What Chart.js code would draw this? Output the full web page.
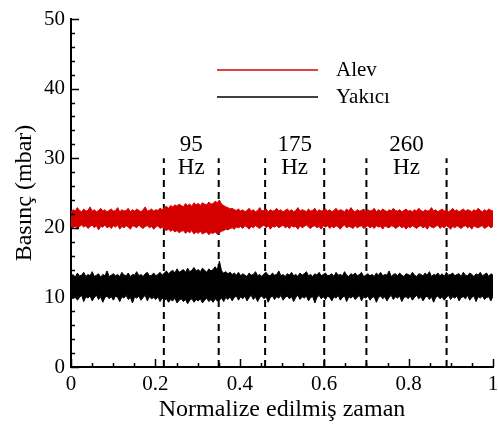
<!DOCTYPE html>
<html>
<head>
<meta charset="utf-8">
<script src="https://cdn.jsdelivr.net/npm/chart.js"></script>
<style>
  html, body { margin: 0; padding: 0; background: #fff; }
  #wrap { width: 498px; height: 426px; }
</style>
</head>
<body>
<div id="wrap"><canvas id="myChart" width="498" height="426"></canvas></div>
<script>
// pressure band edges (mbar), evenly spaced over normalized time 0..1
const alevHigh = [
  22.3, 22.6, 22.4, 22.9, 22.5, 22.3, 22.7, 22.4, 22.5, 23.0, 22.4, 22.6, 22.3, 22.5, 22.8, 22.4, 22.6, 22.3, 22.5, 22.7,
  22.4, 22.5, 22.9, 22.3, 22.6, 22.4, 22.5, 22.8, 22.3, 22.6, 22.4, 22.7, 22.5, 22.3, 22.6, 23.0, 22.4, 22.5, 22.7, 22.4,
  22.6, 22.5, 22.8, 22.6, 22.9, 23.1, 22.8, 23.2, 23.0, 23.3, 23.1, 23.4, 23.2, 23.0, 23.5, 23.2, 23.4, 23.1, 23.6, 23.3,
  23.5, 23.2, 23.6, 23.4, 23.3, 23.7, 23.4, 23.5, 23.8, 23.6, 24.0, 23.4, 23.2, 23.0, 22.9, 22.7, 22.8, 22.6, 22.5, 22.7,
  22.4, 22.6, 22.3, 22.5, 22.8, 22.4, 22.6, 22.3, 22.5, 22.9, 22.4, 22.5, 22.7, 22.3, 22.6, 22.4, 22.5, 22.8, 22.4, 22.6,
  22.3, 22.5, 22.7, 22.4, 22.6, 22.3, 22.5, 22.9, 22.4, 22.6, 22.5, 22.3, 22.7, 22.4, 22.5, 22.8, 22.3, 22.6, 22.4, 22.5,
  22.7, 22.4, 22.6, 22.3, 22.5, 22.8, 22.4, 22.6, 22.5, 22.3, 22.7, 22.4, 22.9, 22.5, 22.3, 22.6, 22.4, 22.5, 22.7, 22.3,
  22.6, 22.4, 22.5, 22.8, 22.3, 22.6, 22.4, 22.7, 22.5, 22.3, 22.6, 22.4, 22.8, 22.5, 22.4, 22.6, 22.3, 22.5, 22.7, 22.4,
  22.5, 22.3, 22.6, 22.4, 22.8, 22.5, 22.3, 22.6, 22.4, 22.5, 22.9, 22.4, 22.6, 22.3, 22.5, 22.7, 22.4, 22.6, 22.3, 22.5,
  22.8, 22.4, 22.6, 22.3, 22.5, 22.7, 22.4, 22.6, 22.5, 22.3, 22.6, 22.4, 22.8, 22.5, 22.3, 22.6, 22.4, 22.7, 22.5, 22.4
]
const alevLow = [
  20.2, 20.0, 20.3, 19.8, 20.2, 20.4, 20.1, 20.3, 19.9, 20.2, 20.4, 20.0, 20.3, 19.7, 20.2, 20.1, 20.4, 20.0, 20.2, 19.9,
  20.3, 20.1, 20.4, 19.8, 20.2, 20.0, 20.3, 20.1, 19.8, 20.3, 20.2, 20.0, 20.4, 20.1, 19.9, 20.2, 20.3, 20.0, 20.2, 19.8,
  20.1, 20.3, 19.9, 20.1, 19.8, 19.6, 19.8, 19.5, 19.7, 19.4, 19.6, 19.3, 19.5, 19.6, 19.2, 19.5, 19.3, 19.6, 19.1, 19.4,
  19.2, 19.5, 19.1, 19.3, 19.4, 19.0, 19.3, 19.2, 19.4, 19.1, 19.3, 19.5, 19.6, 19.8, 19.7, 19.9, 20.0, 19.8, 20.1, 20.0,
  20.2, 19.9, 20.3, 20.1, 19.8, 20.2, 20.0, 20.3, 20.1, 19.9, 20.2, 20.4, 20.0, 20.3, 19.8, 20.2, 20.1, 20.3, 20.0, 20.2,
  20.4, 20.0, 20.2, 19.9, 20.3, 20.1, 20.2, 19.8, 20.3, 20.0, 20.2, 20.4, 20.1, 19.9, 20.2, 20.3, 20.0, 20.2, 19.8, 20.3,
  20.1, 20.3, 19.9, 20.2, 20.0, 20.3, 20.1, 19.8, 20.2, 20.4, 20.0, 20.2, 20.1, 19.9, 20.3, 20.0, 20.2, 20.3, 19.9, 20.1,
  20.3, 20.0, 20.2, 19.9, 20.3, 20.1, 20.2, 19.8, 20.3, 20.1, 20.0, 20.3, 20.2, 19.9, 20.1, 20.3, 20.0, 20.2, 19.8, 20.2,
  20.0, 20.3, 20.1, 19.9, 20.2, 20.3, 20.0, 20.2, 19.8, 20.3, 20.1, 20.0, 20.2, 20.4, 19.9, 20.2, 20.0, 20.3, 20.1, 19.8,
  20.2, 20.0, 20.3, 20.1, 19.9, 20.2, 20.3, 20.0, 20.2, 19.8, 20.3, 20.1, 20.0, 20.2, 20.3, 19.9, 20.1, 20.3, 20.0, 20.2
]
const yakiciHigh = [
  13.0, 13.3, 12.9, 13.5, 13.1, 13.2, 13.6, 13.0, 13.3, 13.1, 13.7, 13.0, 13.2, 13.4, 12.9, 13.3, 13.1, 13.8, 13.0, 13.2,
  13.4, 13.1, 13.3, 13.0, 13.6, 13.2, 13.1, 13.5, 13.0, 13.3, 13.2, 13.7, 13.1, 13.3, 13.0, 13.4, 13.6, 13.1, 13.2, 13.5,
  13.1, 13.3, 13.6, 13.2, 13.5, 13.8, 13.4, 13.7, 13.9, 13.5, 14.1, 13.6, 13.8, 14.0, 13.6, 14.2, 13.7, 13.9, 14.3, 13.8,
  14.0, 13.7, 14.2, 13.9, 13.6, 14.1, 13.8, 14.0, 14.4, 13.9, 15.2, 13.8, 13.5, 13.7, 13.4, 13.6, 13.3, 13.5, 13.2, 13.6,
  13.1, 13.4, 13.2, 13.0, 13.5, 13.2, 13.3, 13.7, 13.1, 13.3, 13.0, 13.4, 13.6, 13.2, 13.1, 13.5, 13.2, 13.3, 13.8, 13.1,
  13.3, 13.0, 13.4, 13.2, 13.6, 13.1, 13.3, 13.0, 13.5, 13.2, 13.4, 13.7, 13.1, 13.3, 13.0, 13.4, 13.2, 13.6, 13.1, 13.3,
  13.5, 13.1, 13.2, 13.4, 13.0, 13.6, 13.2, 13.3, 13.1, 13.7, 13.2, 13.0, 13.4, 13.2, 13.5, 13.1, 13.3, 13.6, 13.0, 13.2,
  13.4, 13.1, 13.3, 13.0, 13.5, 13.2, 13.6, 13.1, 13.3, 13.2, 13.8, 13.0, 13.3, 13.4, 13.1, 13.5, 13.2, 13.0, 13.4, 13.3,
  13.1, 13.6, 13.2, 13.0, 13.4, 13.3, 13.1, 13.5, 13.2, 13.7, 13.0, 13.3, 13.2, 13.5, 13.1, 13.4, 13.0, 13.6, 13.2, 13.3,
  13.5, 13.1, 13.3, 13.4, 13.0, 13.6, 13.2, 13.1, 13.5, 13.3, 13.0, 13.4, 13.2, 13.6, 13.1, 13.3, 13.5, 13.0, 13.4, 13.2
]
const yakiciLow = [
  10.1, 9.8, 10.2, 9.6, 10.0, 10.3, 9.4, 10.1, 9.9, 10.2, 9.5, 10.0, 10.3, 9.7, 10.1, 9.3, 10.0, 10.2, 9.8, 10.1,
  9.6, 10.2, 10.0, 9.4, 10.1, 9.9, 10.3, 9.7, 10.0, 9.2, 10.1, 9.9, 10.2, 9.6, 10.0, 10.3, 9.5, 10.1, 9.8, 10.0,
  9.7, 10.1, 9.4, 9.9, 9.6, 9.8, 9.3, 9.7, 9.5, 9.9, 9.2, 9.6, 9.8, 9.4, 9.7, 9.1, 9.6, 9.8, 9.3, 9.7,
  9.5, 9.8, 9.2, 9.6, 9.9, 9.4, 9.7, 9.3, 9.8, 9.5, 9.6, 9.9, 9.4, 10.0, 9.7, 10.1, 9.5, 10.0, 10.2, 9.6,
  10.1, 9.8, 10.2, 9.5, 10.0, 10.3, 9.7, 10.1, 9.4, 10.0, 10.2, 9.8, 10.1, 9.3, 10.0, 10.2, 9.7, 10.1, 9.9, 10.3,
  9.6, 10.0, 10.2, 9.8, 10.1, 9.4, 10.0, 10.3, 9.7, 10.1, 9.9, 10.2, 9.5, 10.0, 10.1, 9.2, 10.0, 10.3, 9.8, 10.1,
  9.7, 10.2, 10.0, 9.5, 10.1, 9.9, 10.3, 9.6, 10.0, 10.2, 9.4, 10.1, 9.9, 10.2, 9.7, 10.0, 10.3, 9.5, 10.1, 9.9,
  10.2, 9.6, 10.0, 10.1, 9.3, 10.0, 10.2, 9.8, 10.1, 9.5, 10.0, 10.3, 9.7, 10.1, 9.9, 10.2, 9.4, 10.0, 10.1, 9.8,
  10.2, 9.6, 10.0, 10.3, 9.8, 10.1, 9.5, 10.0, 10.2, 9.7, 10.1, 9.3, 10.0, 10.2, 9.8, 10.1, 9.6, 10.0, 10.3, 9.7,
  10.1, 9.9, 10.2, 9.5, 10.0, 10.1, 9.8, 10.3, 9.6, 10.0, 10.2, 9.4, 10.1, 9.9, 10.2, 9.7, 10.0, 10.1, 9.5, 10.2
]

const seriesNames = ['Alev', 'Yakıcı']
const seriesColors = ['#d40000', '#000000']

// window borders (normalized time) and their frequency labels
const windowEdges = [0.22, 0.35, 0.46, 0.60, 0.70, 0.89]
const freqLabels = ['95', '175', '260']
const xTicks = [0, 0.2, 0.4, 0.6, 0.8, 1]
const yTicks = [0, 10, 20, 30, 40, 50]

const serif = "'Liberation Serif', 'Times New Roman', serif"

const toPoints = arr => arr.map((v, i) => ({ x: i / (arr.length - 1), y: v }))

const bandPair = (low, high, name, color) => [
  { label: name + ' min', data: toPoints(low), borderColor: color, borderWidth: 1, fill: false },
  { label: name, data: toPoints(high), borderColor: color, borderWidth: 1, backgroundColor: color, fill: '-1' }
]

const datasets = [
  ...bandPair(alevLow, alevHigh, seriesNames[0], seriesColors[0]),
  ...bandPair(yakiciLow, yakiciHigh, seriesNames[1], seriesColors[1])
]
windowEdges.forEach(x => {
  datasets.push({
    label: '', data: [{ x, y: 0 }, { x, y: 30 }],
    borderColor: '#000', borderWidth: 2, borderDash: [7, 5], fill: false
  })
})

// inward ticks, legend and window labels
const decorPlugin = {
  id: 'decor',
  afterDatasetsDraw: (chart) => {
    const { ctx, scales: { x, y }, chartArea } = chart
    ctx.save()
    ctx.strokeStyle = '#000'
    ctx.lineWidth = 1.5
    for (let v = 0; v <= 50; v += 2) {
      const py = Math.round(y.getPixelForValue(v)) + 0.5
      const len = v % 10 === 0 ? 8 : 4
      ctx.beginPath(); ctx.moveTo(chartArea.left, py); ctx.lineTo(chartArea.left + len, py); ctx.stroke()
    }
    for (let k = 0; k <= 20; k++) {
      const px = Math.round(x.getPixelForValue(k * 0.05)) + 0.5
      const len = k % 4 === 0 ? 8 : 4
      ctx.beginPath(); ctx.moveTo(px, chartArea.bottom); ctx.lineTo(px, chartArea.bottom - len); ctx.stroke()
    }

    // legend
    ctx.font = '21px ' + serif
    ctx.textBaseline = 'middle'
    ctx.textAlign = 'left'
    seriesNames.forEach((name, i) => {
      const py = 70 + i * 27
      ctx.strokeStyle = seriesColors[i]
      ctx.lineWidth = 1.5
      ctx.beginPath(); ctx.moveTo(217, py); ctx.lineTo(318, py); ctx.stroke()
      ctx.fillStyle = '#000'
      ctx.fillText(name, 336, py)
    })

    // frequency labels between window borders
    ctx.font = '23px ' + serif
    ctx.textAlign = 'center'
    freqLabels.forEach((f, i) => {
      const cx = x.getPixelForValue((windowEdges[2 * i] + windowEdges[2 * i + 1]) / 2)
      ctx.fillText(f, cx, y.getPixelForValue(31.9))
      ctx.fillText('Hz', cx, y.getPixelForValue(28.6))
    })
    ctx.restore()
  }
}

const config = {
  type: 'line',
  data: { datasets },
  options: {
    responsive: false,
    animation: false,
    layout: { padding: { left: 0, right: 0, top: 19, bottom: 0 } },
    elements: { point: { radius: 0 }, line: { tension: 0 } },
    plugins: { legend: { display: false }, tooltip: { enabled: false } },
    scales: {
      x: {
        type: 'linear', min: 0, max: 1,
        afterBuildTicks: s => { s.ticks = xTicks.map(value => ({ value })) },
        afterFit: s => { s.height = 59; s.paddingRight = 5 },
        grid: { display: false, drawTicks: false },
        border: { display: true, color: '#000', width: 2 },
        ticks: {
          color: '#000', padding: 5, maxRotation: 0,
          font: { family: serif, size: 21 },
          callback: v => String(v)
        },
        title: {
          display: true, text: 'Normalize edilmiş zaman', color: '#000',
          font: { family: serif, size: 24 }, padding: { top: 0, bottom: 2 }
        }
      },
      y: {
        min: 0, max: 50,
        afterBuildTicks: s => { s.ticks = yTicks.map(value => ({ value })) },
        afterFit: s => { s.width = 71 },
        grid: { display: false, drawTicks: false },
        border: { display: true, color: '#000', width: 2 },
        ticks: {
          color: '#000', padding: 6,
          font: { family: serif, size: 21 }
        },
        title: {
          display: true, text: 'Basınç (mbar)', color: '#000',
          font: { family: serif, size: 24 }, padding: { top: 10, bottom: 0 }
        }
      }
    }
  },
  plugins: [decorPlugin]
}

document.fonts.load("20px 'Liberation Serif'").then(() => {
  new Chart(document.getElementById('myChart').getContext('2d'), config)
})
</script>
</body>
</html>
